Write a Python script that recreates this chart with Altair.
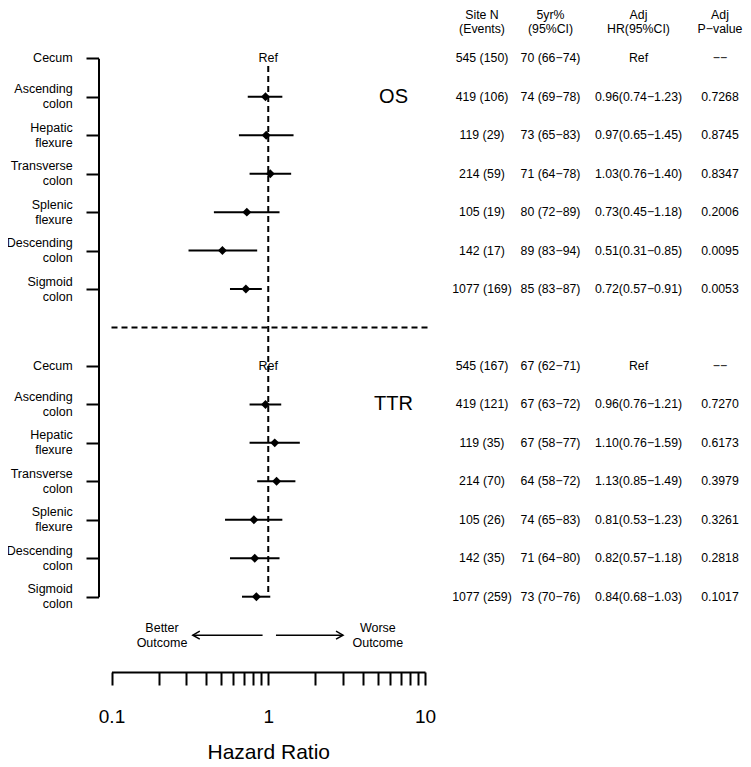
import altair as alt
import pandas as pd

# ---------------- data ----------------
sites = ["Cecum", "Ascending\ncolon", "Hepatic\nflexure", "Transverse\ncolon",
         "Splenic\nflexure", "Descending\ncolon", "Sigmoid\ncolon"]

os_n = ["545 (150)", "419 (106)", "119 (29)", "214 (59)", "105 (19)", "142 (17)", "1077 (169)"]
os_surv = ["70 (66−74)", "74 (69−78)", "73 (65−83)", "71 (64−78)", "80 (72−89)", "89 (83−94)", "85 (83−87)"]
os_hr = [None, 0.96, 0.97, 1.03, 0.73, 0.51, 0.72]
os_lo = [None, 0.74, 0.65, 0.76, 0.45, 0.31, 0.57]
os_hi = [None, 1.23, 1.45, 1.40, 1.18, 0.85, 0.91]
os_p = ["−−", "0.7268", "0.8745", "0.8347", "0.2006", "0.0095", "0.0053"]

ttr_n = ["545 (167)", "419 (121)", "119 (35)", "214 (70)", "105 (26)", "142 (35)", "1077 (259)"]
ttr_surv = ["67 (62−71)", "67 (63−72)", "67 (58−77)", "64 (58−72)", "74 (65−83)", "71 (64−80)", "73 (70−76)"]
ttr_hr = [None, 0.96, 1.10, 1.13, 0.81, 0.82, 0.84]
ttr_lo = [None, 0.76, 0.76, 0.85, 0.53, 0.57, 0.68]
ttr_hi = [None, 1.21, 1.59, 1.49, 1.23, 1.18, 1.03]
ttr_p = ["−−", "0.7270", "0.6173", "0.3979", "0.3261", "0.2818", "0.1017"]

groups = ["OS", "TTR"]
group_start = [0, 8]
headers = ["Site N\n(Events)", "5yr%\n(95%CI)", "Adj\nHR(95%CI)", "Adj\nP−value"]
hr_ticks = [0.1, 0.2, 0.3, 0.4, 0.5, 0.6, 0.7, 0.8, 0.9, 1,
            2, 3, 4, 5, 6, 7, 8, 9, 10]
ref_hr = 1
arrow_from = [0.92, 1.12]
arrow_to = [0.33, 3.0]
arrow_dir = ["left", "right"]
outcome_text = ["Better\nOutcome", "Worse\nOutcome"]
outcome_x = [0.21, 5.0]
group_label_x = 6.3
sep_x = [0.1, 10.4]

# ---------------- tables ----------------
rows = []
for g, start, n, sv, hr, lo, hi, p in [
    ("OS", 0, os_n, os_surv, os_hr, os_lo, os_hi, os_p),
    ("TTR", 8, ttr_n, ttr_surv, ttr_hr, ttr_lo, ttr_hi, ttr_p),
]:
    for i in range(len(sites)):
        hr_txt = "Ref" if hr[i] is None else f"{hr[i]:.2f}({lo[i]:.2f}−{hi[i]:.2f})"
        rows.append(dict(group=g, row=start + i, site=sites[i], n=n[i], surv=sv[i],
                         hr=hr[i], lo=lo[i], hi=hi[i], hrtxt=hr_txt, p=p[i]))
df = pd.DataFrame(rows)

hdr = pd.DataFrame({"col": list(range(4)), "text": headers, "row": [-1] * 4})
grp = pd.DataFrame({"group": groups, "row": [s + 1 for s in group_start], "x": [group_label_x] * 2})
arr = pd.DataFrame({"from": arrow_from, "to": arrow_to, "dir": arrow_dir,
                    "text": outcome_text, "tx": outcome_x, "row": [15, 15]})
vline = pd.DataFrame({"x": [ref_hr], "y1": [0.2], "y2": [14]})
hline = pd.DataFrame({"x1": [sep_x[0]], "x2": [sep_x[1]], "y": [7]})

FONT = "Liberation Sans"
LH = 15
TOP = 6  # top padding

XS = alt.Scale(type="log", domain=[0.1, 10], range=[103.5, 417], nice=False)
XA = alt.Axis(values=hr_ticks, grid=False, tickSize=13, tickWidth=2, domainWidth=2,
              domainColor="black", tickColor="black", labelColor="black",
              labelFont=FONT, labelFontSize=19, labelPadding=22, labelFlush=False,
              labelOverlap=False, labelBound=False,
              labelExpr="datum.value == 1 ? '1' : datum.value == 10 ? '10' : (abs(datum.value - 0.1) < 1e-9 ? '0.1' : '')",
              titleFont=FONT, titleFontSize=21, titleFontWeight="normal", titleColor="black",
              titlePadding=15)
YS = alt.Scale(type="linear", domain=[0, 14], range=[50.3 - TOP, 588.7 - TOP], nice=False, zero=False)
YA = alt.Axis(values=[0, 1, 2, 3, 4, 5, 6, 8, 9, 10, 11, 12, 13, 14], labels=False, grid=False,
              tickSize=12.5, tickWidth=2, domainWidth=2, offset=-90.5,
              domainColor="black", tickColor="black")


def X(field=None, datum=None):
    if datum is not None:
        return alt.X(datum=datum, type="quantitative", scale=XS, axis=XA, title="Hazard Ratio")
    return alt.X(field, type="quantitative", scale=XS, axis=XA, title="Hazard Ratio")


def Y(field):
    return alt.Y(field, type="quantitative", scale=YS, axis=YA, title=None)


base = alt.Chart(df)

ci = base.transform_filter("datum.hr != null").mark_rule(color="black", strokeWidth=2).encode(
    x=X("lo"), x2="hi", y=Y("row"))
pts = base.transform_filter("datum.hr != null").mark_point(
    shape="diamond", filled=True, color="black", size=80, opacity=1).encode(x=X("hr"), y=Y("row"))
reftxt = base.transform_filter("datum.hr == null").mark_text(
    font=FONT, fontSize=12.5, color="black").encode(x=X(datum=ref_hr), y=Y("row"), text=alt.value("Ref"))

site_one = base.transform_filter("indexof(datum.site, '\\n') < 0").mark_text(
    font=FONT, fontSize=12.5, align="right", baseline="middle", color="black").encode(
    x=alt.value(64.7), y=Y("row"), text="site:N")
site_two = base.transform_filter("indexof(datum.site, '\\n') >= 0").mark_text(
    font=FONT, fontSize=12.5, align="right", baseline="middle", lineBreak="\n",
    lineHeight=LH, dy=-LH / 2, color="black").encode(
    x=alt.value(64.7), y=Y("row"), text="site:N")

col_x = [474, 542.5, 630.5, 712]
col_fields = ["n", "surv", "hrtxt", "p"]
table_layers = []
for cx, f in zip(col_x, col_fields):
    table_layers.append(base.mark_text(font=FONT, fontSize=12.3, align="center",
                                       baseline="middle", color="black").encode(
        x=alt.value(cx), y=Y("row"), text=f"{f}:N"))
for i, cx in enumerate(col_x):
    table_layers.append(alt.Chart(hdr).transform_filter(f"datum.col == {i}").mark_text(
        font=FONT, fontSize=12.3, align="center", baseline="middle", lineBreak="\n",
        lineHeight=14, dy=-4.8, color="black").encode(x=alt.value(cx), y=Y("row"), text="text:N"))

vrule = alt.Chart(vline).mark_rule(color="black", strokeWidth=2, strokeDash=[6, 4]).encode(
    x=X("x"), y=Y("y1"), y2="y2")
hrule = alt.Chart(hline).mark_rule(color="black", strokeWidth=2, strokeDash=[6, 4]).encode(
    x=X("x1"), x2="x2", y=Y("y"))

grp_txt = alt.Chart(grp).mark_text(font=FONT, fontSize=20, color="black").encode(
    x=X("x"), y=Y("row"), text="group:N")

arr_line = alt.Chart(arr).mark_rule(color="black", strokeWidth=1.5).encode(
    x=X("from"), x2="to", y=Y("row"))
left_head = "M3.5,-2L0,0L3.5,2"
right_head = "M-3.5,-2L0,0L-3.5,2"
arr_head = alt.Chart(arr).mark_point(filled=False, color="black", strokeWidth=1.5, size=16,
                                     opacity=1).encode(
    x=X("to"), y=Y("row"),
    shape=alt.Shape("dir:N", scale=alt.Scale(domain=["left", "right"], range=[left_head, right_head]),
                    legend=None))
arr_txt = alt.Chart(arr).mark_text(font=FONT, fontSize=12.5, lineBreak="\n", lineHeight=LH,
                                   baseline="middle", dy=-LH / 2, color="black").encode(
    x=X("tx"), y=Y("row"), text="text:N")

chart = alt.layer(
    ci, vrule, hrule, pts, reftxt, site_one, site_two, *table_layers, grp_txt,
    arr_line, arr_head, arr_txt
).properties(
    width=735, height=664 - TOP,
    autosize=alt.AutoSizeParams(type="none"),
    padding={"left": 0, "top": TOP, "right": 0, "bottom": 94},
).configure_view(stroke="transparent", strokeWidth=0)

chart.save("out.html", embed_options={"renderer": "svg", "actions": False})
